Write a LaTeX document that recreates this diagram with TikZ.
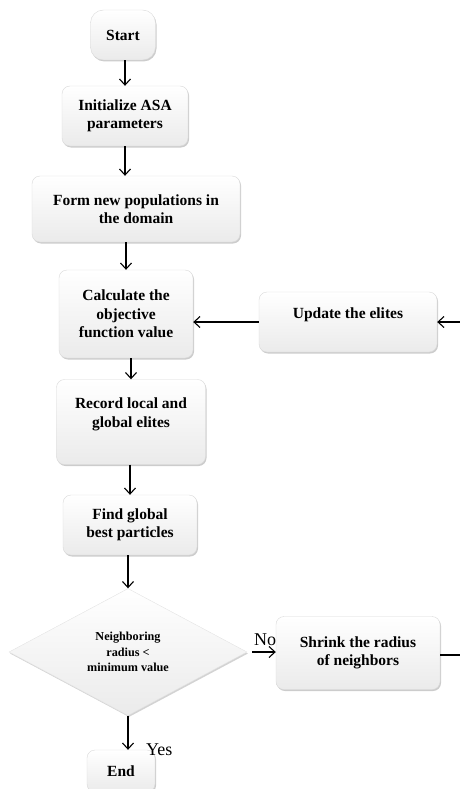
\documentclass[tikz,border=0pt]{standalone}
\usepackage{fontspec}
\setmainfont{Liberation Serif}
\usetikzlibrary{shapes.geometric,arrows.meta,shadows}

\tikzset{
  stepbox/.style={rectangle, rounded corners=8pt, draw=gray!30, thin,
    top color=white, bottom color=gray!16, align=center,
    font=\bfseries\fontsize{15.5}{18.5}\selectfont, inner sep=2pt,
    drop shadow={opacity=0.4, shadow xshift=1pt, shadow yshift=-1.5pt}},
  testbox/.style={diamond, draw=gray!22, thin,
    top color=white, bottom color=gray!16, align=center, inner sep=0pt,
    font=\bfseries\fontsize{12.2}{15.5}\selectfont,
    drop shadow={opacity=0.35, shadow xshift=1pt, shadow yshift=-1.5pt}},
  arr/.style={-{Straight Barb[length=6pt,width=11pt]}, line width=1.1pt},
  answer/.style={font=\fontsize{18}{20}\selectfont, inner sep=0pt}
}

\begin{document}
\begin{tikzpicture}[x=1pt,y=-1pt]

        \useasboundingbox (0,0) rectangle (460,789);

        %Main column
        \node [stepbox, rounded corners=13pt, minimum width=65pt, minimum height=50pt] (start) at (123,35) {Start};
        \node [stepbox, minimum width=126pt, minimum height=60pt] (init) at (125,116) {Initialize ASA\\parameters};
        \node [stepbox, minimum width=208pt, minimum height=66pt] (form) at (136,209) {Form new populations in\\the domain};
        \node [stepbox, minimum width=134pt, minimum height=88pt] (calc) at (126,314) {Calculate the\\objective\\function value};
        \node [stepbox, minimum width=149pt, minimum height=85pt] (record) at (131,422) {Record local and\\global elites\\ \mbox{}};
        \node [stepbox, minimum width=134pt, minimum height=60pt] (find) at (130,525) {Find global\\best particles};
        \node [testbox, minimum width=238pt, minimum height=127pt] (dec) at (128,652) {Neighboring\\radius <\\minimum value};
        \node [stepbox, minimum width=68pt, minimum height=42pt] (end) at (121,771) {End};

        %Loop
        \node [stepbox, minimum width=178pt, minimum height=60pt] (update) at (348,322) {Update the elites\\ \mbox{}};
        \node [stepbox, minimum width=164pt, minimum height=73pt] (shrink) at (358,653) {Shrink the radius\\of neighbors};
        \coordinate (loopin) at (460,322);
        \coordinate (loopout) at (460,655);

        %Arrows
        \draw [arr] (start.south -| init.north) -- (init.north);
        \draw [arr] (init.south) -- (init.south |- form.north);
        \draw [arr] (form.south -| calc.north) -- (calc.north);
        \draw [arr] (calc.south -| record.north) -- (record.north);
        \draw [arr] (record.south -| find.north) -- (find.north);
        \draw [arr] (find.south -| dec.north) -- (dec.north);
        \draw [arr] (dec.south) -- (dec.south |- end.north);
        \draw [arr, shorten <=5pt] (dec.east) -- (dec.east -| shrink.west);
        \draw [arr] (update.west) -- (update.west -| calc.east);
        \draw [line width=1.1pt] (shrink.east |- loopout) -- (loopout);
        \draw [arr] (loopin) -- (loopin -| update.east);

        %Labels
        \node [answer, anchor=south west] (no) at (254,646) {No};
        \node [answer, anchor=south west] (yes) at (146,756) {Yes};

\end{tikzpicture}
\end{document}
